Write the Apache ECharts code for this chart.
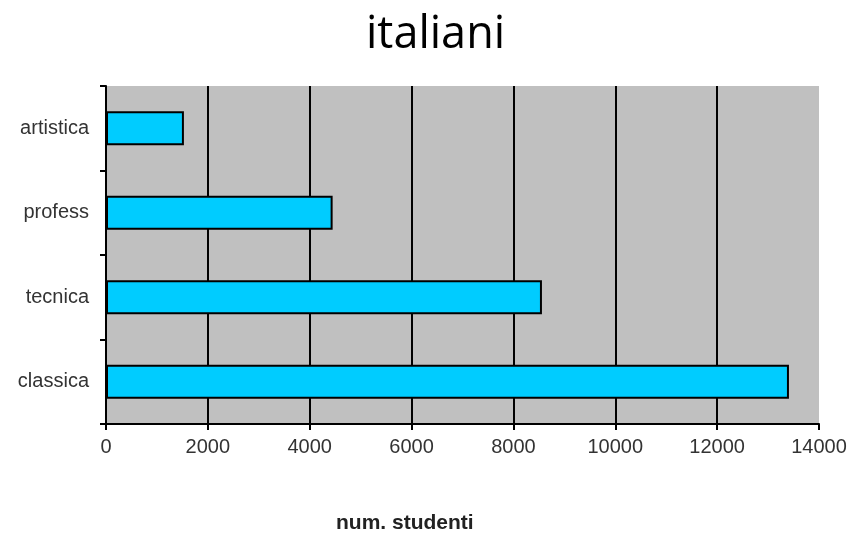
<!DOCTYPE html>
<html><head><meta charset="utf-8">
<script src="https://cdn.jsdelivr.net/npm/echarts@6/dist/echarts.min.js"></script>
<style>html,body{margin:0;padding:0;background:#fff}#c{width:850px;height:534px}</style>
</head><body><div id="c"></div>
<script>
const categories = ['classica', 'tecnica', 'profess', 'artistica'];
const studenti = [13410, 8560, 4450, 1530];
const xTicks = [0, 2000, 4000, 6000, 8000, 10000, 12000, 14000];
const chart = echarts.init(document.getElementById('c'));
chart.setOption({
  animation: false,
  title: { text: 'italiani', left: 361, top: 8,
    textStyle: { fontFamily: 'Open Sans', fontSize: 45, fontWeight: 'normal', color: '#000' } },
  graphic: [{ type: 'text', left: 336, top: 513,
    style: { text: 'num. studenti', fontFamily: 'Liberation Sans', fontSize: 21, fontWeight: 'bold', fill: '#222' } }],
  grid: { left: 106, right: 31, top: 86, bottom: 110, show: true, backgroundColor: '#c0c0c0', borderWidth: 0 },
  xAxis: { type: 'value', min: xTicks[0], max: xTicks[xTicks.length-1], interval: 2000,
    axisLine: { show: true, lineStyle: { color: '#000', width: 2 } },
    axisTick: { show: true, length: 6, lineStyle: { color: '#000', width: 2 } },
    axisLabel: { fontFamily: 'Liberation Sans', fontSize: 20, color: '#333', margin: 13,
      formatter: v => String(v) },
    splitLine: { show: true, showMaxLine: false, lineStyle: { color: '#000', width: 2 } } },
  yAxis: { type: 'category', data: categories,
    axisLine: { show: true, lineStyle: { color: '#000', width: 2 } },
    axisTick: { show: true, length: 6, lineStyle: { color: '#000', width: 2 } },
    axisLabel: { fontFamily: 'Liberation Sans', fontSize: 20, color: '#333', margin: 17 },
    splitLine: { show: false } },
  series: [{ type: 'bar', data: studenti, barWidth: 34,
    itemStyle: { color: '#00ccff', borderColor: '#000', borderWidth: 2 } }]
});
</script></body></html>
